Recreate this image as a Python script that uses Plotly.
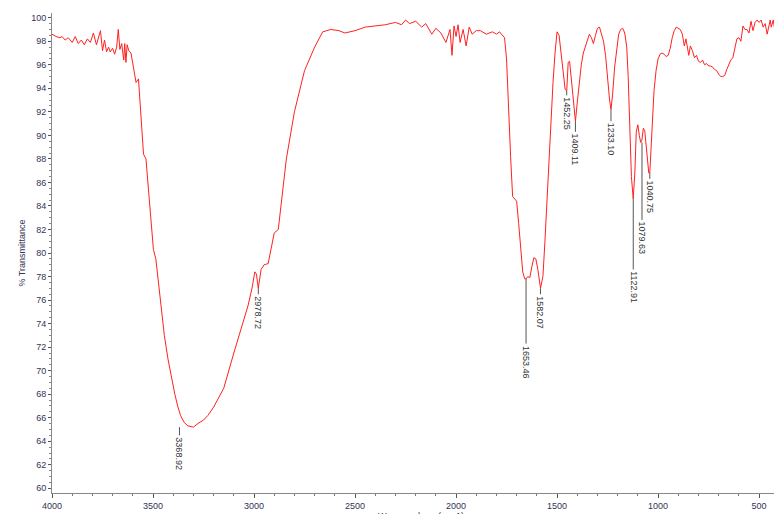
import plotly.graph_objects as go

# wavenumber (cm-1) and % transmittance, 10 points per row
wavenumber = [
    4000, 3980, 3960, 3950, 3935, 3920, 3900, 3885, 3870, 3855,
    3840, 3825, 3810, 3795, 3780, 3770, 3760, 3750, 3740, 3730,
    3720, 3712, 3700, 3690, 3680, 3672, 3664, 3655, 3645, 3640,
    3634, 3628, 3620, 3609, 3596, 3584, 3572, 3560, 3547, 3535,
    3522, 3510, 3498, 3486, 3473, 3461, 3444, 3426, 3410, 3392,
    3378, 3364, 3346, 3327, 3300, 3278, 3250, 3228, 3200, 3150,
    3100, 3060, 3030, 3010, 2996, 2988, 2979, 2965, 2950, 2930,
    2915, 2900, 2880, 2860, 2840, 2800, 2750, 2700, 2660, 2620,
    2580, 2550, 2500, 2450, 2400, 2350, 2300, 2270, 2250, 2230,
    2200, 2170, 2150, 2120, 2100, 2075, 2050, 2030, 2020, 2010,
    2000, 1990, 1980, 1965, 1950, 1935, 1920, 1900, 1880, 1850,
    1820, 1800, 1785, 1770, 1760, 1750, 1740, 1730, 1720, 1710,
    1700, 1690, 1680, 1670, 1660, 1653, 1645, 1635, 1625, 1615,
    1605, 1595, 1582, 1570, 1560, 1550, 1540, 1530, 1520, 1510,
    1500, 1490, 1480, 1470, 1460, 1452, 1445, 1438, 1430, 1420,
    1409, 1400, 1390, 1380, 1370, 1360, 1350, 1340, 1330, 1320,
    1310, 1300, 1290, 1280, 1270, 1260, 1250, 1240, 1233, 1225,
    1215, 1205, 1195, 1185, 1175, 1165, 1155, 1148, 1140, 1132,
    1123, 1115, 1108, 1100, 1093, 1086, 1080, 1073, 1066, 1060,
    1053, 1046, 1041, 1035, 1028, 1020, 1010, 1000, 990, 980,
    970, 960, 950, 940, 930, 920, 910, 900, 890, 880,
    870, 862, 855, 848, 840, 830, 820, 810, 800, 790,
    780, 770, 760, 750, 740, 730, 720, 710, 700, 690,
    680, 670, 660, 650, 640, 630, 620, 610, 600, 590,
    580, 570, 560, 550, 540, 530, 520, 510, 500, 490,
    480, 470, 460, 455, 450, 445, 440, 430, 425, 420,
    417, 414, 410, 405, 400, 395, 385, 375, 365, 350,
]
transmittance = [
    98.6, 98.4, 98.3, 98.4, 98.1, 98.3, 97.9, 98.4, 97.8, 98.1,
    97.7, 98.2, 97.9, 98.7, 97.7, 98.3, 98.9, 97.2, 98.1, 97.1,
    97.5, 97.1, 97.4, 96.9, 97.5, 99.0, 97.3, 97.8, 96.4, 97.8,
    96.2, 97.7, 97.2, 97.0, 95.8, 94.5, 94.8, 91.5, 88.4, 88.0,
    85.2, 82.5, 80.3, 79.5, 77.5, 75.8, 73.0, 71.0, 69.5, 68.0,
    67.0, 66.2, 65.6, 65.3, 65.2, 65.5, 65.8, 66.2, 66.9, 68.5,
    71.5, 73.8, 75.5, 77.0, 78.4, 78.2, 77.0, 78.6, 79.0, 79.1,
    80.4, 81.7, 82.0, 85.2, 88.0, 92.0, 95.5, 97.5, 98.8, 99.0,
    98.9, 98.7, 98.9, 99.2, 99.3, 99.4, 99.6, 99.4, 99.8, 99.5,
    99.7, 99.2, 99.5, 98.6, 99.1, 98.7, 97.9, 99.0, 96.8, 99.3,
    98.4, 99.4, 97.9, 99.0, 97.6, 99.2, 98.6, 98.9, 98.9, 98.6,
    98.8, 98.6, 98.8, 98.5, 98.3, 96.5, 92.0, 88.2, 84.8, 84.6,
    84.4, 82.5, 80.0, 78.4, 77.8, 77.8, 78.0, 77.9, 78.8, 79.6,
    79.5, 78.6, 77.0, 78.0, 81.0, 84.5, 88.0, 91.5, 94.5, 97.0,
    98.8, 98.5, 96.8, 95.0, 93.9, 93.8, 96.2, 96.3, 95.0, 93.0,
    91.2, 92.8, 94.5, 96.0, 97.0, 97.6, 98.0, 98.6, 98.3, 97.8,
    98.5, 99.1, 99.2, 98.6, 98.0, 96.8, 94.6, 93.0, 92.2, 93.5,
    95.8, 97.5, 98.6, 99.0, 99.1, 98.7, 97.5, 95.0, 90.0, 86.5,
    84.6, 86.8, 90.3, 90.9, 90.0, 89.4, 89.6, 90.6, 90.4, 89.2,
    87.5, 86.8, 86.8, 89.0, 91.5, 93.8, 95.5, 96.5, 96.9, 97.0,
    96.9, 96.7, 96.8, 97.4, 98.3, 98.9, 99.2, 99.1, 99.0, 98.6,
    97.6, 98.2, 97.6, 96.8, 97.6, 97.2, 96.6, 96.8, 96.3, 96.2,
    96.4, 96.0, 96.1, 95.9, 95.9, 95.8, 95.6, 95.5, 95.2, 95.0,
    95.0, 95.1, 95.6, 96.0, 96.4, 96.6, 97.4, 98.2, 98.3, 98.0,
    99.3, 99.0, 99.0, 98.7, 99.7, 98.9, 99.6, 99.8, 99.6, 99.8,
    99.2, 99.5, 98.6, 98.9, 99.4, 99.8, 99.2, 99.8, 99.1, 98.7,
    99.5, 99.0, 97.5, 93.5, 94.8, 98.2, 99.6, 99.3, 99.5, 99.0,
]

# labelled peaks: position, tip of the trace, end of the leader line
peak_labels = ["3368.92", "2978.72", "1653.46", "1582.07", "1452.25",
               "1409.11", "1233.10", "1122.91", "1079.63", "1040.75"]
peak_x = [3368.92, 2978.72, 1653.46, 1582.07, 1452.25, 1409.11, 1233.10, 1122.91, 1079.63, 1040.75]
peak_y = [65.2, 77.0, 77.8, 77.0, 93.8, 91.2, 92.2, 84.6, 89.4, 86.8]
line_end = [64.5, 76.5, 72.3, 76.5, 93.4, 90.3, 91.2, 78.6, 82.8, 86.3]

fig = go.Figure()
fig.add_trace(go.Scatter(x=wavenumber, y=transmittance, mode="lines",
                         line=dict(color="#ff2020", width=1), showlegend=False))

for lab, px, py, ye in zip(peak_labels, peak_x, peak_y, line_end):
    fig.add_shape(type="line", x0=px, x1=px, y0=py, y1=ye,
                  line=dict(color="#555555", width=1))
    fig.add_annotation(x=px, y=ye, text=lab, textangle=90, showarrow=False,
                       yanchor="top", xanchor="center",
                       font=dict(size=9, color="#333333", family="Liberation Sans"))

fig.update_layout(
    width=782, height=514,
    margin=dict(l=44, r=0, t=5, b=29),
    plot_bgcolor="white", paper_bgcolor="white",
    font=dict(family="Liberation Sans", size=9, color="#333355"),
    xaxis=dict(range=[4000, 347], tickvals=[4000, 3500, 3000, 2500, 2000, 1500, 1000, 500],
               showgrid=False, zeroline=False, showline=True, linecolor="#888888",
               ticks="outside", ticklen=4, tickcolor="#555555",
               minor=dict(dtick=100, ticks="outside", ticklen=2, tickcolor="#777777"),
               title=dict(text="Wavenumbers (cm-1)", standoff=0, font=dict(size=9))),
    yaxis=dict(range=[59.6, 100.4], dtick=2, tick0=60, showgrid=False, zeroline=False,
               showline=True, linecolor="#888888", ticks="outside", ticklen=3,
               tickcolor="#555555",
               minor=dict(dtick=0.5, ticks="outside", ticklen=2, tickcolor="#888888"),
               title=dict(text="% Transmittance", standoff=4, font=dict(size=9))),
)

fig.write_html("out.html")
